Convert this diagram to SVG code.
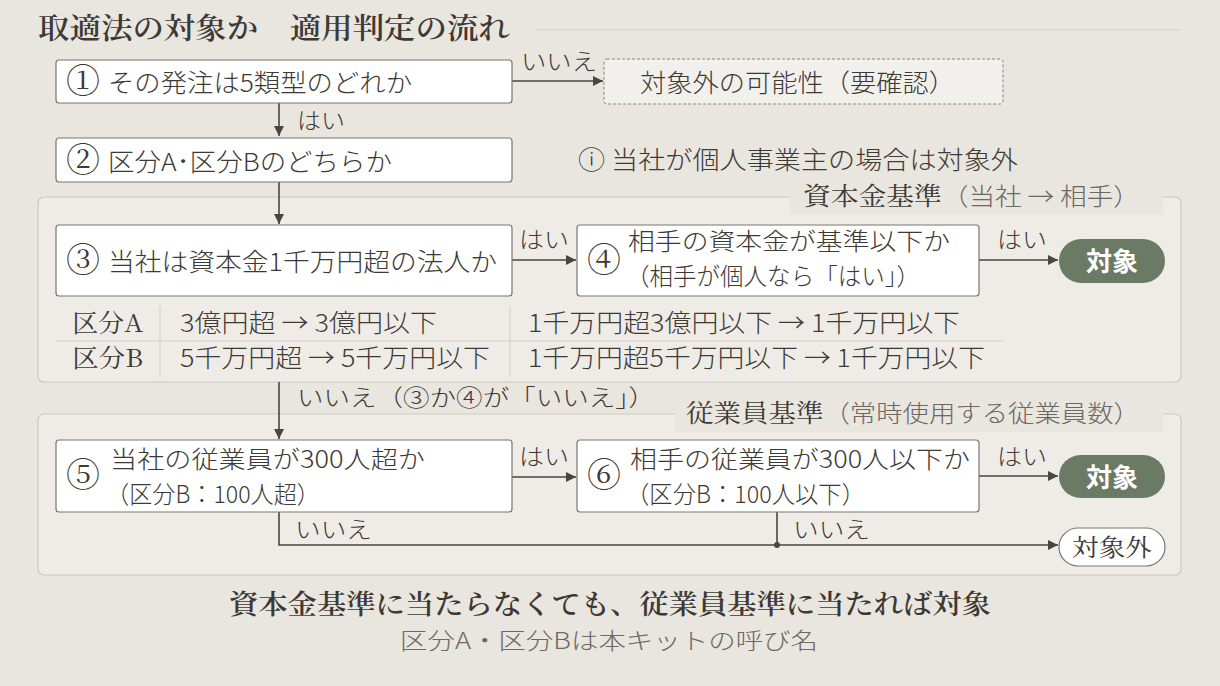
<svg xmlns="http://www.w3.org/2000/svg" width="1220" height="686" viewBox="0 0 1220 686">
<defs>
<marker id="ah" viewBox="0 0 10 10" refX="10" refY="5" markerWidth="10" markerHeight="10" markerUnits="userSpaceOnUse" orient="auto">
<path d="M0,0 L10,5 L0,10 z" fill="#4a4541"/>
</marker>
<style>
.sans{font-family:"Noto Sans CJK JP","Noto Sans",sans-serif;fill:#3d3935;font-weight:300}
.serif{font-family:"Noto Serif CJK JP","Noto Serif JP",serif;fill:#3d3935}
.box{fill:#ffffff;stroke:#7a756f;stroke-width:1.2}
.grp{fill:#efece7;stroke:#cdc8c1;stroke-width:1.2}
.lblbg{fill:#e9e5df}
.conn{fill:none;stroke:#4a4541;stroke-width:1.6}
.t22{font-size:25px}
.t2l{font-size:24px}
.num{font-size:34px}
.lab{font-size:23px}
.gray{fill:#6e6862}
.pill{fill:#6b7a65}
.pt{font-family:"Noto Sans CJK JP",sans-serif;fill:#ffffff;font-weight:bold;font-size:26px}
</style>
</defs>
<rect x="0" y="0" width="1220" height="686" fill="#e9e5df"/>

<g id="title">
<text class="serif" x="38" y="39" font-size="29" font-weight="600" textLength="472" lengthAdjust="spacingAndGlyphs">取適法の対象か　適用判定の流れ</text>
<line x1="535" y1="30" x2="1180" y2="30" stroke="#d6d1ca" stroke-width="1.2"/>
</g>

<g id="group-capital">
<rect class="grp" x="38" y="197" width="1143" height="185" rx="6"/>
<rect class="lblbg" x="790" y="182" width="373" height="32"/>
<text x="803" y="205" font-size="25" textLength="337" lengthAdjust="spacingAndGlyphs"><tspan class="serif">資本金基準</tspan><tspan class="sans gray" font-size="24">（当社 → 相手）</tspan></text>
</g>

<g id="group-employee">
<rect class="grp" x="38" y="414" width="1143" height="161" rx="6"/>
<rect class="lblbg" x="675" y="398" width="488" height="34"/>
<text x="686" y="422" font-size="25" textLength="454" lengthAdjust="spacingAndGlyphs"><tspan class="serif">従業員基準</tspan><tspan class="sans gray" font-size="24">（常時使用する従業員数）</tspan></text>
</g>

<g id="connectors">
<line class="conn" x1="512" y1="81" x2="603" y2="81" marker-end="url(#ah)"/>
<line class="conn" x1="279" y1="103" x2="279" y2="136" marker-end="url(#ah)"/>
<line class="conn" x1="279" y1="182" x2="279" y2="224" marker-end="url(#ah)"/>
<line class="conn" x1="512" y1="260" x2="576" y2="260" marker-end="url(#ah)"/>
<line class="conn" x1="979" y1="260" x2="1058" y2="260" marker-end="url(#ah)"/>
<line class="conn" x1="279" y1="382" x2="279" y2="439" marker-end="url(#ah)"/>
<line class="conn" x1="512" y1="477" x2="576" y2="477" marker-end="url(#ah)"/>
<line class="conn" x1="979" y1="476" x2="1058" y2="476" marker-end="url(#ah)"/>
<polyline class="conn" points="279,512 279,545 1058,545" marker-end="url(#ah)"/>
<line class="conn" x1="777" y1="512" x2="777" y2="545"/>
<circle cx="777" cy="545" r="3" fill="#4a4541"/>
<text class="sans lab" x="521" y="70" textLength="76" lengthAdjust="spacingAndGlyphs">いいえ</text>
<text class="sans lab" x="297" y="129" textLength="48" lengthAdjust="spacingAndGlyphs">はい</text>
<text class="sans lab" x="519" y="248" textLength="50" lengthAdjust="spacingAndGlyphs">はい</text>
<text class="sans lab" x="997" y="248" textLength="50" lengthAdjust="spacingAndGlyphs">はい</text>
<text class="sans lab" x="297" y="406" textLength="358" lengthAdjust="spacingAndGlyphs">いいえ（③か④が「いいえ」）</text>
<text class="sans lab" x="519" y="465" textLength="50" lengthAdjust="spacingAndGlyphs">はい</text>
<text class="sans lab" x="997" y="465" textLength="50" lengthAdjust="spacingAndGlyphs">はい</text>
<text class="sans lab" x="295" y="538" textLength="77" lengthAdjust="spacingAndGlyphs">いいえ</text>
<text class="sans lab" x="793" y="538" textLength="77" lengthAdjust="spacingAndGlyphs">いいえ</text>
</g>

<g id="n1">
<rect class="box" x="56" y="60" width="456" height="43" rx="3"/>
<text class="serif num" x="66" y="93">①</text>
<text class="sans t22" x="108" y="92" textLength="304" lengthAdjust="spacingAndGlyphs">その発注は5類型のどれか</text>
</g>

<g id="n-out-maybe">
<rect x="604" y="59" width="399" height="45" rx="3" fill="#f2f0ec" stroke="#8a857f" stroke-width="1" stroke-dasharray="3,2"/>
<text class="sans t22" x="640" y="92" textLength="315" lengthAdjust="spacingAndGlyphs">対象外の可能性（要確認）</text>
</g>

<g id="n2">
<rect class="box" x="56" y="138" width="456" height="44" rx="3"/>
<text class="serif num" x="66" y="172">②</text>
<text class="sans t22" x="108" y="171" textLength="284" lengthAdjust="spacingAndGlyphs">区分A･区分Bのどちらか</text>
</g>

<g id="note">
<text class="sans t22" x="578" y="169" textLength="440" lengthAdjust="spacingAndGlyphs">ⓘ 当社が個人事業主の場合は対象外</text>
</g>

<g id="n3">
<rect class="box" x="56" y="225" width="456" height="71" rx="3"/>
<text class="serif num" x="66" y="272">③</text>
<text class="sans t22" x="108" y="271" textLength="389" lengthAdjust="spacingAndGlyphs">当社は資本金1千万円超の法人か</text>
</g>

<g id="n4">
<rect class="box" x="577" y="225" width="402" height="71" rx="3"/>
<text class="serif num" x="587" y="272">④</text>
<text class="sans t2l" x="628" y="250" textLength="322" lengthAdjust="spacingAndGlyphs">相手の資本金が基準以下か</text>
<text class="sans t2l" x="626" y="285" textLength="294" lengthAdjust="spacingAndGlyphs">（相手が個人なら「はい」）</text>
</g>

<g id="t-target1">
<rect class="pill" x="1059" y="239" width="106" height="44" rx="22"/>
<text class="pt" x="1112" y="271" text-anchor="middle">対象</text>
</g>

<g id="table">
<line x1="56" y1="341" x2="1003" y2="341" stroke="#d2cdc6" stroke-width="1"/>
<line x1="160" y1="306" x2="160" y2="377" stroke="#d2cdc6" stroke-width="1"/>
<line x1="510" y1="306" x2="510" y2="377" stroke="#d2cdc6" stroke-width="1"/>
<text class="serif t22" x="72" y="332" textLength="71" lengthAdjust="spacingAndGlyphs">区分A</text>
<text class="sans t22" x="180" y="332" textLength="257" lengthAdjust="spacingAndGlyphs">3億円超 → 3億円以下</text>
<text class="sans t22" x="528" y="332" textLength="432" lengthAdjust="spacingAndGlyphs">1千万円超3億円以下 → 1千万円以下</text>
<text class="serif t22" x="72" y="367" textLength="71" lengthAdjust="spacingAndGlyphs">区分B</text>
<text class="sans t22" x="180" y="367" textLength="310" lengthAdjust="spacingAndGlyphs">5千万円超 → 5千万円以下</text>
<text class="sans t22" x="528" y="367" textLength="457" lengthAdjust="spacingAndGlyphs">1千万円超5千万円以下 → 1千万円以下</text>
</g>

<g id="n5">
<rect class="box" x="56" y="440" width="456" height="72" rx="3"/>
<text class="serif num" x="66" y="487">⑤</text>
<text class="sans t2l" x="110" y="468" textLength="315" lengthAdjust="spacingAndGlyphs">当社の従業員が300人超か</text>
<text class="sans t2l" x="106" y="503" textLength="214" lengthAdjust="spacingAndGlyphs">（区分B：100人超）</text>
</g>

<g id="n6">
<rect class="box" x="577" y="440" width="402" height="72" rx="3"/>
<text class="serif num" x="587" y="487">⑥</text>
<text class="sans t2l" x="630" y="468" textLength="340" lengthAdjust="spacingAndGlyphs">相手の従業員が300人以下か</text>
<text class="sans t2l" x="626" y="503" textLength="239" lengthAdjust="spacingAndGlyphs">（区分B：100人以下）</text>
</g>

<g id="t-target2">
<rect class="pill" x="1059" y="455" width="106" height="43" rx="21.5"/>
<text class="pt" x="1112" y="487" text-anchor="middle">対象</text>
</g>

<g id="t-out">
<rect x="1059" y="528" width="106" height="38" rx="19" fill="#ffffff" stroke="#7a756f" stroke-width="1.2"/>
<text class="serif" x="1112" y="556" font-size="24" text-anchor="middle" textLength="80" lengthAdjust="spacingAndGlyphs">対象外</text>
</g>

<g id="footer">
<text class="serif" x="610" y="614" font-size="27" font-weight="600" text-anchor="middle" textLength="762" lengthAdjust="spacingAndGlyphs">資本金基準に当たらなくても、従業員基準に当たれば対象</text>
<text class="sans gray" x="609" y="649" font-size="23" text-anchor="middle" textLength="418" lengthAdjust="spacingAndGlyphs">区分A・区分Bは本キットの呼び名</text>
</g>
</svg>
